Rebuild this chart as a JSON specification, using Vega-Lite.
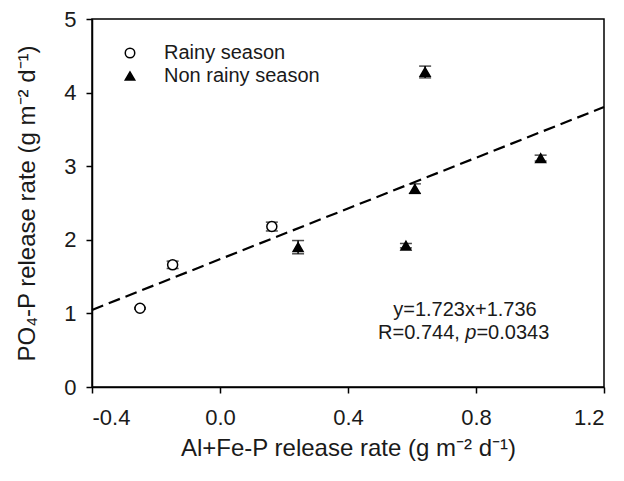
{
  "$schema": "https://vega.github.io/schema/vega-lite/v6.json",
  "width": 512,
  "height": 368,
  "autosize": "none",
  "padding": {"left": 92, "top": 19, "right": 20, "bottom": 94},
  "background": "white",
  "config": {
    "font": "Liberation Sans",
    "view": {"stroke": "black", "strokeWidth": 1.5},
    "axis": {
      "grid": false,
      "domainColor": "black",
      "domainWidth": 1.5,
      "tickColor": "black",
      "tickWidth": 1.5,
      "tickSize": 6,
      "labelColor": "#1a1a1a",
      "labelFont": "Liberation Sans",
      "labelFontSize": 22,
      "titleFont": "Liberation Sans",
      "titleFontSize": 24,
      "titleFontWeight": "normal",
      "titleColor": "#1a1a1a"
    }
  },
  "datasets": {
    "pts": [
      {"x": -0.25, "y": 1.07, "lo": 1.06, "hi": 1.08, "season": "Rainy season"},
      {"x": -0.148, "y": 1.66, "lo": 1.61, "hi": 1.71, "season": "Rainy season"},
      {"x": 0.162, "y": 2.18, "lo": 2.12, "hi": 2.24, "season": "Rainy season"},
      {"x": 0.244, "y": 1.9, "lo": 1.81, "hi": 1.99, "season": "Non rainy season"},
      {"x": 0.581, "y": 1.92, "lo": 1.89, "hi": 1.95, "season": "Non rainy season"},
      {"x": 0.609, "y": 2.69, "lo": 2.63, "hi": 2.76, "season": "Non rainy season"},
      {"x": 0.641, "y": 4.28, "lo": 4.2, "hi": 4.36, "season": "Non rainy season"},
      {"x": 1.002, "y": 3.11, "lo": 3.07, "hi": 3.15, "season": "Non rainy season"}
    ],
    "fit": [
      {"x": -0.4, "y": 1.047},
      {"x": 1.2, "y": 3.804}
    ]
  },
  "layer": [
    {
      "data": {"name": "fit"},
      "mark": {"type": "line", "color": "black", "strokeWidth": 2.2, "strokeDash": [12, 6]},
      "encoding": {
        "x": {"field": "x", "type": "quantitative", "scale": {"domain": [-0.4, 1.2], "nice": false},
          "axis": {"values": [-0.4, 0.0, 0.4, 0.8, 1.2], "labelExpr": "replace(format(datum.value, '.1f'), '\u2212', '-')", "labelPadding": 14, "titlePadding": 8,
            "title": "Al+Fe-P release rate (g m\u207b\u00b2 d\u207b\u00b9)"}},
        "y": {"field": "y", "type": "quantitative", "scale": {"domain": [0, 5], "nice": false},
          "axis": {"values": [0, 1, 2, 3, 4, 5], "format": "d", "labelPadding": 10, "titlePadding": 24,
            "title": "PO\u2084-P release rate (g m\u207b\u00b2 d\u207b\u00b9)"}}
      }
    },
    {
      "data": {"name": "pts"},
      "mark": {"type": "rule", "color": "black", "strokeWidth": 1.5},
      "encoding": {
        "x": {"field": "x", "type": "quantitative"},
        "y": {"field": "lo", "type": "quantitative"},
        "y2": {"field": "hi"}
      }
    },
    {
      "data": {"name": "pts"},
      "mark": {"type": "tick", "color": "black", "orient": "horizontal", "size": 12, "thickness": 1.5},
      "encoding": {
        "x": {"field": "x", "type": "quantitative"},
        "y": {"field": "lo", "type": "quantitative"}
      }
    },
    {
      "data": {"name": "pts"},
      "mark": {"type": "tick", "color": "black", "orient": "horizontal", "size": 12, "thickness": 1.5},
      "encoding": {
        "x": {"field": "x", "type": "quantitative"},
        "y": {"field": "hi", "type": "quantitative"}
      }
    },
    {
      "data": {"name": "pts"},
      "mark": {"type": "point", "stroke": "black", "strokeWidth": 1.5, "opacity": 1, "size": 100},
      "encoding": {
        "x": {"field": "x", "type": "quantitative"},
        "y": {"field": "y", "type": "quantitative"},
        "shape": {"field": "season", "type": "nominal",
          "scale": {"domain": ["Rainy season", "Non rainy season"], "range": ["circle", "triangle-up"]},
          "legend": {"title": null, "orient": "none", "legendX": 28, "legendY": 24, "labelFontSize": 20,
            "labelFont": "Liberation Sans", "labelColor": "#1a1a1a", "labelOffset": 24, "rowPadding": 3, "symbolSize": 90,
            "encode": {"symbols": {"update": {
              "stroke": {"value": "black"},
              "strokeWidth": {"value": 1.5},
              "opacity": {"value": 1},
              "fill": {"signal": "datum.value === 'Rainy season' ? 'white' : 'black'"}}}}}},
        "fill": {"field": "season", "type": "nominal",
          "scale": {"domain": ["Rainy season", "Non rainy season"], "range": ["white", "black"]},
          "legend": null}
      }
    },
    {
      "data": {"values": [{"x": 0.7656, "y": 1.05, "t": "y=1.723x+1.736"}]},
      "mark": {"type": "text", "fontSize": 20, "font": "Liberation Sans", "color": "#1a1a1a", "align": "center", "baseline": "middle"},
      "encoding": {
        "x": {"field": "x", "type": "quantitative"},
        "y": {"field": "y", "type": "quantitative"},
        "text": {"field": "t"}
      }
    },
    {
      "data": {"values": [{"x": 0.494, "y": 0.73, "t": "R=0.744,"}, {"x": 0.8013, "y": 0.73, "t": "=0.0343"}]},
      "mark": {"type": "text", "fontSize": 20, "font": "Liberation Sans", "color": "#1a1a1a", "align": "left", "baseline": "middle"},
      "encoding": {
        "x": {"field": "x", "type": "quantitative"},
        "y": {"field": "y", "type": "quantitative"},
        "text": {"field": "t"}
      }
    },
    {
      "data": {"values": [{"x": 0.7666, "y": 0.73, "t": "p"}]},
      "mark": {"type": "text", "fontSize": 20, "font": "Liberation Sans", "fontStyle": "italic", "color": "#1a1a1a", "align": "left", "baseline": "middle"},
      "encoding": {
        "x": {"field": "x", "type": "quantitative"},
        "y": {"field": "y", "type": "quantitative"},
        "text": {"field": "t"}
      }
    }
  ]
}
